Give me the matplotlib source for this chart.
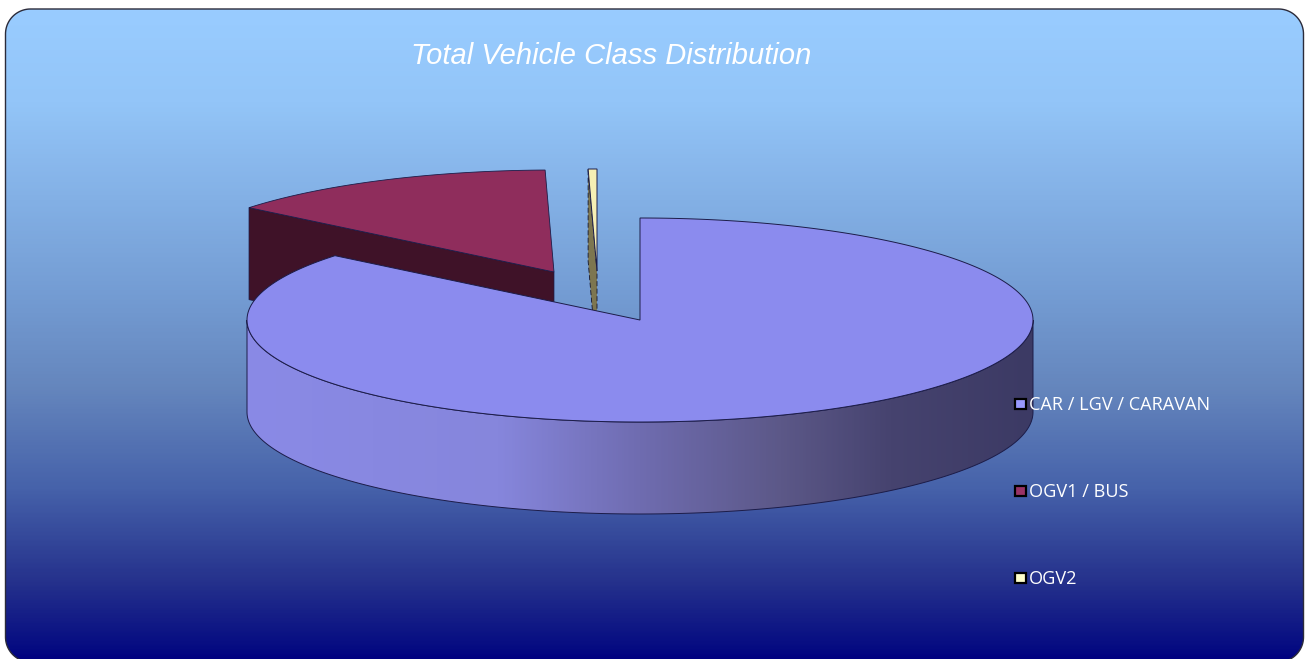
# Total vehicle class 3D pie, exploded slices drawn by hand
import matplotlib
matplotlib.use('Agg')
import matplotlib.pyplot as plt
import numpy as np
from matplotlib.colors import LinearSegmentedColormap
from matplotlib.patches import Polygon, Rectangle

title = 'Total Vehicle Class Distribution'
categories = ['CAR / LGV / CARAVAN', 'OGV1 / BUS', 'OGV2']
shares = [85.86, 13.78, 0.36]

top_colors = ['#8b8bee', '#8f2d5c', '#f6efb4']
side_colors = ['#8a8ae6', '#3f1228', '#7d7650']
legend_colors = ['#9999ff', '#993366', '#ffffcc']

W, H = 1308, 659
cx, cy, rx, ry, depth = 640, 320, 393, 102, 92
# where each slice's tip sits in pixels
tips = [(640, 320), (554, 272), (597, 271)]
edge = '#1c1c48'


def rim(tip, a0, a1, n=160):
    t = np.radians(np.linspace(a0, a1, n))
    return np.column_stack([tip[0] + rx * np.sin(t), tip[1] - ry * np.cos(t)])


def round_box(x0, y0, x1, y1, r):
    # plain polyline, curves running off the canvas get mangled by agg
    pts = []
    corners = [(x0 + r, y0 + r, 270), (x1 - r, y0 + r, 0), (x1 - r, y1 - r, 90), (x0 + r, y1 - r, 180)]
    for ccx, ccy, a in corners:
        t = np.radians(np.linspace(a - 90, a, 24))
        pts.append(np.column_stack([ccx + r * np.cos(t), ccy + r * np.sin(t)]))
    return np.vstack(pts)


fig = plt.figure(figsize=(W / 100, H / 100), dpi=100)
ax = fig.add_axes([0, 0, 1, 1])
ax.set_xlim(0, W)
ax.set_ylim(H, 0)
ax.axis('off')

# background panel
bg = LinearSegmentedColormap.from_list('bg', [
    (0.0, '#99ccff'), (0.14, '#93c5f8'), (0.445, '#739bd2'), (0.58, '#6586bd'),
    (0.735, '#4662aa'), (0.88, '#25318c'), (0.98, '#060c82'), (1.0, '#000080')])
panel = Polygon(round_box(5.5, 9, 1303.5, 662, 25), closed=True,
                fc='none', ec='#2b2b3a', lw=1.0, zorder=3)
ax.add_patch(panel)
im = ax.imshow(np.linspace(0, 1, 400)[:, None], cmap=bg, aspect='auto',
               extent=(0, W, 662, 9), zorder=1)
im.set_clip_path(panel)
ax.set_xlim(0, W)
ax.set_ylim(H, 0)

# slice angles, clockwise from 12 o'clock; first slice starts there
ends = np.cumsum(shares) / np.sum(shares) * 360
starts = np.concatenate([[0], ends[:-1]])

# slice 3, then 2, then the big one on top
a0, a1 = starts[2], ends[2]
tip = np.array(tips[2])
p = rim(tip, a0, a1, 10)
ax.add_patch(Polygon([p[0], tip, tip + [0, depth], p[0] + [0, depth]], closed=True,
                     fc=side_colors[2], ec='#14142a', lw=0.6, ls=(0, (6, 3)), zorder=4))
ax.add_patch(Polygon(np.vstack([tip, p]), closed=True, fc=top_colors[2], ec=edge, lw=0.7, zorder=5))

a0, a1 = starts[1], ends[1]
tip = np.array(tips[1])
p = rim(tip, a0, a1)
ax.add_patch(Polygon([p[0], tip, tip + [0, depth], p[0] + [0, depth]], closed=True,
                     fc=side_colors[1], ec=edge, lw=0.5, zorder=6))
ax.add_patch(Polygon(np.vstack([tip, p]), closed=True, fc=top_colors[1], ec=edge, lw=0.6, zorder=7))

# big slice: shaded wall then top
tip = np.array(tips[0])
front = rim(tip, 90, 270, 240)
wall = Polygon(np.vstack([front, (front + [0, depth])[::-1]]), closed=True,
               fc='none', ec=edge, lw=0.7, zorder=9)
ax.add_patch(wall)
shade = LinearSegmentedColormap.from_list('shade', [
    (0.0, '#8a8ae6'), (0.32, '#8686dc'), (0.5, '#6f6cb0'), (0.68, '#5c5888'),
    (0.82, '#46436f'), (1.0, '#3c3a64')])
wim = ax.imshow(np.linspace(0, 1, 400)[None, :], cmap=shade, aspect='auto',
                extent=(cx - rx, cx + rx, cy + ry + depth, cy), zorder=8)
wim.set_clip_path(wall)
ax.set_xlim(0, W)
ax.set_ylim(H, 0)
p = rim(tip, starts[0], ends[0], 400)
ax.add_patch(Polygon(np.vstack([tip, p]), closed=True, fc=top_colors[0], ec=edge, lw=0.7, zorder=10))

ax.text(611, 56, title, color='white', fontsize=21, style='italic',
        family='Liberation Sans', ha='center', va='center', zorder=12)

# legend
for i, (name, col) in enumerate(zip(categories, legend_colors)):
    y = 404 + i * 87
    ax.add_patch(Rectangle((1015, y - 5), 11, 10, fc=col, ec='black', lw=1.6, zorder=12))
    ax.text(1029, y + 1, name, color='white', fontsize=13.1, family='Open Sans',
            ha='left', va='center', zorder=12)

fig.savefig('out.png', dpi=100, facecolor='white')
